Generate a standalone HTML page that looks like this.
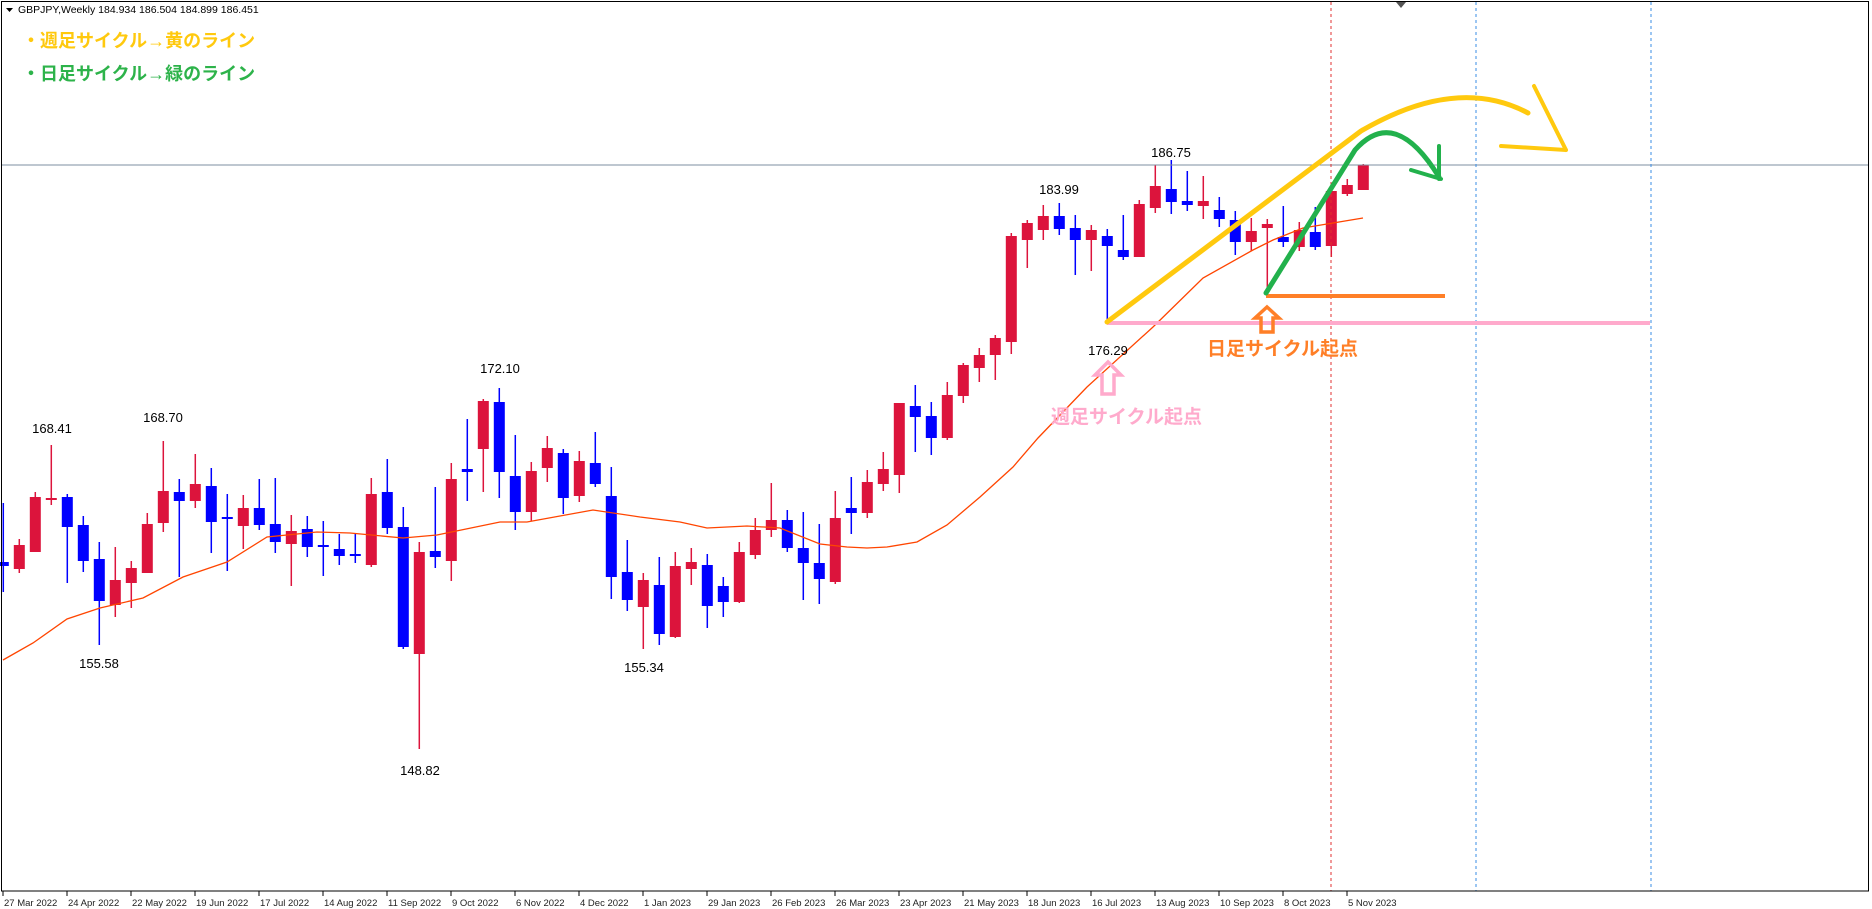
<!DOCTYPE html>
<html><head><meta charset="utf-8"><style>
html,body{margin:0;padding:0;background:#fff;width:1872px;height:909px;overflow:hidden}
svg{display:block}
text{font-family:"Liberation Sans","Noto Sans CJK JP",sans-serif}
</style></head><body>
<svg id="s" width="1872" height="909" viewBox="0 0 1872 909" xmlns="http://www.w3.org/2000/svg">
<rect x="0" y="0" width="1872" height="909" fill="#fff"/>
<g id="cd"></g>
<polyline fill="none" stroke="#ff4500" stroke-width="1.3" points="3,660 33,643 67,619 100,608 143,598 183,577 227,562 267,537 317,532 350,533 403,538 437,535 500,522 527,522 593,510 640,517 680,522 707,528 747,526 780,528 820,544 847,547 867,548 887,547 917,542 947,525 980,497 1013,467 1038,438 1087,387 1153,327 1203,278 1253,250 1273,240 1303,228 1363,218"/>
<line x1="2" y1="165" x2="1869" y2="165" stroke="#7d8fa0" stroke-width="1"/>
<line x1="1331" y1="2" x2="1331" y2="891" stroke="#e03030" stroke-width="1" stroke-dasharray="3,3"/>
<line x1="1476" y1="2" x2="1476" y2="891" stroke="#3a8ee6" stroke-width="1" stroke-dasharray="3,3"/>
<line x1="1651" y1="2" x2="1651" y2="891" stroke="#3a8ee6" stroke-width="1" stroke-dasharray="3,3"/>
<rect x="1.5" y="1.5" width="1867" height="889.5" fill="none" stroke="#000" stroke-width="1"/>
<polygon points="1396,2 1406,2 1401,8" fill="#555"/>
<!-- annotations -->
<line x1="1107" y1="323" x2="1650" y2="323" stroke="#ffaacc" stroke-width="4"/>
<line x1="1266" y1="296" x2="1445" y2="296" stroke="#ff7f27" stroke-width="4"/>
<path d="M1107,322 L1361,131 Q1457,75 1528,113" fill="none" stroke="#ffc90e" stroke-width="5" stroke-linecap="round"/>
<path d="M1534,86 L1566,150 M1501,146 L1566,150" fill="none" stroke="#ffc90e" stroke-width="4" stroke-linecap="round"/>
<path d="M1266,293 L1355,150 Q1395,105 1439,177" fill="none" stroke="#22b14c" stroke-width="5" stroke-linecap="round"/>
<path d="M1439,146 L1439,179 M1411,170 L1441,179" fill="none" stroke="#22b14c" stroke-width="4" stroke-linecap="round"/>
<path d="M1267,307 L1279,318 L1273,318 L1273,332 L1261,332 L1261,318 L1255,318 Z" fill="none" stroke="#ff7f27" stroke-width="3.5"/>
<path d="M1108,362 L1121,375 L1114,375 L1114,394 L1102,394 L1102,375 L1095,375 Z" fill="none" stroke="#ffaacc" stroke-width="3.5"/>
<text x="1207" y="355" font-size="19" font-weight="bold" fill="#ff7f27">日足サイクル起点</text>
<text x="1051" y="423" font-size="19" font-weight="bold" fill="#ffaacc">週足サイクル起点</text>
<g font-size="13" fill="#000" text-anchor="middle">
<text x="1171" y="157">186.75</text>
<text x="1059" y="194">183.99</text>
<text x="1108" y="355">176.29</text>
<text x="52" y="433">168.41</text>
<text x="163" y="422">168.70</text>
<text x="500" y="373">172.10</text>
<text x="99" y="668">155.58</text>
<text x="644" y="672">155.34</text>
<text x="420" y="775">148.82</text>
</g>
<polygon points="6,8 13,8 9.5,12" fill="#000"/>
<text x="18" y="13" font-size="10.5" fill="#000">GBPJPY,Weekly  184.934 186.504 184.899 186.451</text>
<text x="22" y="47" font-size="18" font-weight="bold" fill="#ffc90e">・週足サイクル→黄のライン</text>
<text x="22" y="80" font-size="18" font-weight="bold" fill="#2db34a">・日足サイクル→緑のライン</text>
<g id="ax" font-size="9.5" fill="#222"></g>
</svg>
<script>
var d=[[562,566,503,592,'b'],[545,569,539,573,'r'],[497,552,492,552,'r'],[498,500,445,505,'r'],[497,527,494,583,'b'],[525,561,516,572,'b'],[559,601,542,645,'b'],[580,605,547,617,'r'],[568,583,561,608,'r'],[524,573,513,573,'r'],[491,523,441,532,'r'],[492,501,479,577,'b'],[484,501,454,508,'r'],[486,522,468,553,'b'],[517,519,494,571,'b'],[508,526,495,549,'r'],[508,525,479,530,'b'],[524,542,478,553,'b'],[531,544,515,586,'r'],[529,547,516,557,'b'],[545,547,521,576,'b'],[549,556,534,565,'b'],[554,556,534,563,'b'],[494,565,478,567,'r'],[492,528,459,534,'b'],[527,647,507,649,'b'],[552,654,542,749,'r'],[551,557,487,568,'b'],[479,561,463,581,'r'],[469,472,419,501,'b'],[401,449,399,492,'r'],[402,472,388,498,'b'],[476,512,435,530,'b'],[471,512,462,521,'r'],[448,468,436,482,'r'],[453,498,449,514,'b'],[461,496,451,502,'r'],[463,484,432,487,'b'],[496,577,467,599,'b'],[572,600,540,611,'b'],[580,607,573,649,'r'],[585,634,557,645,'b'],[566,637,552,638,'r'],[562,569,548,585,'r'],[565,606,554,628,'b'],[586,602,577,617,'b'],[552,602,542,603,'r'],[530,555,518,559,'r'],[520,530,483,537,'r'],[520,548,510,552,'b'],[548,563,512,600,'b'],[563,579,524,604,'b'],[518,582,491,584,'r'],[508,513,477,534,'b'],[482,513,470,518,'r'],[469,484,452,491,'r'],[403,475,403,493,'r'],[406,417,385,452,'b'],[416,438,402,455,'b'],[395,438,382,440,'r'],[365,396,363,403,'r'],[355,368,348,382,'r'],[338,355,335,380,'r'],[236,342,233,354,'r'],[223,240,220,268,'r'],[216,230,205,240,'r'],[216,229,203,235,'b'],[228,240,215,275,'b'],[230,240,225,271,'r'],[236,246,229,320,'b'],[250,257,215,260,'b'],[204,257,200,257,'r'],[186,208,165,213,'r'],[189,202,160,214,'b'],[201,205,171,211,'b'],[201,206,176,219,'r'],[210,219,197,227,'b'],[220,242,211,255,'b'],[231,242,218,251,'r'],[224,228,219,291,'r'],[237,242,206,247,'b'],[230,247,222,251,'r'],[232,247,207,250,'b'],[191,246,191,257,'r'],[185,194,179,196,'r'],[165,190,164,190,'r']];
var g=document.getElementById('cd'),h='';
for(var i=0;i<d.length;i++){var x=3.3+16*i,c=d[i][4]=='r'?'#dc143c':'#0000ff';
h+='<rect x="'+(x-0.75)+'" y="'+d[i][2]+'" width="1.5" height="'+(d[i][3]-d[i][2])+'" fill="'+c+'"/>';
var bh=Math.max(2,d[i][1]-d[i][0]);h+='<rect x="'+(x-5.5)+'" y="'+d[i][0]+'" width="11" height="'+bh+'" fill="'+c+'"/>';}
g.innerHTML=h;
var L=['27 Mar 2022','24 Apr 2022','22 May 2022','19 Jun 2022','17 Jul 2022','14 Aug 2022','11 Sep 2022','9 Oct 2022','6 Nov 2022','4 Dec 2022','1 Jan 2023','29 Jan 2023','26 Feb 2023','26 Mar 2023','23 Apr 2023','21 May 2023','18 Jun 2023','16 Jul 2023','13 Aug 2023','10 Sep 2023','8 Oct 2023','5 Nov 2023'];
var a='';for(var j=0;j<L.length;j++){var x=3+64*j;a+='<line x1="'+x+'" y1="891" x2="'+x+'" y2="896" stroke="#000"/><text x="'+(x+1)+'" y="906">'+L[j]+'</text>';}
document.getElementById('ax').innerHTML=a;
</script>
</body></html>
